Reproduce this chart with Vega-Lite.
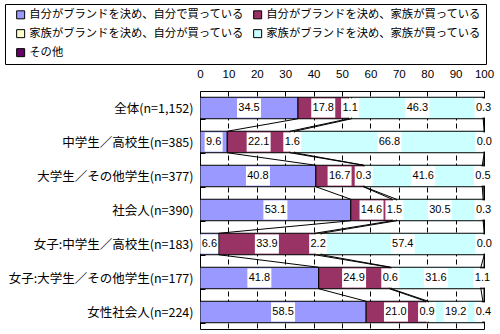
{
  "$schema": "https://vega.github.io/schema/vega-lite/v6.json",
  "width": 284,
  "height": 238,
  "autosize": {"type": "none"},
  "padding": {"left": 200, "top": 91, "right": 16, "bottom": 5},
  "background": "white",
  "config": {
    "font": "Noto Sans CJK JP",
    "view": {"stroke": "black", "strokeWidth": 1},
    "axisX": {"orient": "top", "title": null, "tickCount": 10, "labelOverlap": false, "grid": true, "gridColor": "black", "gridDash": [5, 3], "gridWidth": 1, "gridOpacity": 1, "domain": false, "ticks": false, "labelFontSize": 11.5, "labelFont": "Liberation Sans", "labelColor": "black", "labelPadding": 12, "labelFlush": false}
  },
  "data": {
    "values": [
      {"g": "全体(n=1,152)", "s": "自分がブランドを決め、自分で買っている", "v": 34.5},
      {"g": "全体(n=1,152)", "s": "自分がブランドを決め、家族が買っている", "v": 17.8},
      {"g": "全体(n=1,152)", "s": "家族がブランドを決め、自分が買っている", "v": 1.1},
      {"g": "全体(n=1,152)", "s": "家族がブランドを決め、家族が買っている", "v": 46.3},
      {"g": "全体(n=1,152)", "s": "その他", "v": 0.3},
      {"g": "中学生／高校生(n=385)", "s": "自分がブランドを決め、自分で買っている", "v": 9.6},
      {"g": "中学生／高校生(n=385)", "s": "自分がブランドを決め、家族が買っている", "v": 22.1},
      {"g": "中学生／高校生(n=385)", "s": "家族がブランドを決め、自分が買っている", "v": 1.6},
      {"g": "中学生／高校生(n=385)", "s": "家族がブランドを決め、家族が買っている", "v": 66.8},
      {"g": "中学生／高校生(n=385)", "s": "その他", "v": 0.0},
      {"g": "大学生／その他学生(n=377)", "s": "自分がブランドを決め、自分で買っている", "v": 40.8},
      {"g": "大学生／その他学生(n=377)", "s": "自分がブランドを決め、家族が買っている", "v": 16.7},
      {"g": "大学生／その他学生(n=377)", "s": "家族がブランドを決め、自分が買っている", "v": 0.3},
      {"g": "大学生／その他学生(n=377)", "s": "家族がブランドを決め、家族が買っている", "v": 41.6},
      {"g": "大学生／その他学生(n=377)", "s": "その他", "v": 0.5},
      {"g": "社会人(n=390)", "s": "自分がブランドを決め、自分で買っている", "v": 53.1},
      {"g": "社会人(n=390)", "s": "自分がブランドを決め、家族が買っている", "v": 14.6},
      {"g": "社会人(n=390)", "s": "家族がブランドを決め、自分が買っている", "v": 1.5},
      {"g": "社会人(n=390)", "s": "家族がブランドを決め、家族が買っている", "v": 30.5},
      {"g": "社会人(n=390)", "s": "その他", "v": 0.3},
      {"g": "女子:中学生／高校生(n=183)", "s": "自分がブランドを決め、自分で買っている", "v": 6.6},
      {"g": "女子:中学生／高校生(n=183)", "s": "自分がブランドを決め、家族が買っている", "v": 33.9},
      {"g": "女子:中学生／高校生(n=183)", "s": "家族がブランドを決め、自分が買っている", "v": 2.2},
      {"g": "女子:中学生／高校生(n=183)", "s": "家族がブランドを決め、家族が買っている", "v": 57.4},
      {"g": "女子:中学生／高校生(n=183)", "s": "その他", "v": 0.0},
      {"g": "女子:大学生／その他学生(n=177)", "s": "自分がブランドを決め、自分で買っている", "v": 41.8},
      {"g": "女子:大学生／その他学生(n=177)", "s": "自分がブランドを決め、家族が買っている", "v": 24.9},
      {"g": "女子:大学生／その他学生(n=177)", "s": "家族がブランドを決め、自分が買っている", "v": 0.6},
      {"g": "女子:大学生／その他学生(n=177)", "s": "家族がブランドを決め、家族が買っている", "v": 31.6},
      {"g": "女子:大学生／その他学生(n=177)", "s": "その他", "v": 1.1},
      {"g": "女性社会人(n=224)", "s": "自分がブランドを決め、自分で買っている", "v": 58.5},
      {"g": "女性社会人(n=224)", "s": "自分がブランドを決め、家族が買っている", "v": 21.0},
      {"g": "女性社会人(n=224)", "s": "家族がブランドを決め、自分が買っている", "v": 0.9},
      {"g": "女性社会人(n=224)", "s": "家族がブランドを決め、家族が買っている", "v": 19.2},
      {"g": "女性社会人(n=224)", "s": "その他", "v": 0.4}
    ]
  },
  "transform": [
    {"calculate": "indexof(['自分がブランドを決め、自分で買っている','自分がブランドを決め、家族が買っている','家族がブランドを決め、自分が買っている','家族がブランドを決め、家族が買っている','その他'], datum.s)", "as": "so"},
    {"calculate": "indexof(['全体(n=1,152)','中学生／高校生(n=385)','大学生／その他学生(n=377)','社会人(n=390)','女子:中学生／高校生(n=183)','女子:大学生／その他学生(n=177)','女性社会人(n=224)'], datum.g)", "as": "go"},
    {"window": [{"op": "sum", "field": "v", "as": "cum"}], "sort": [{"field": "so"}], "groupby": ["g"], "frame": [null, 0]},
    {"calculate": "datum.cum - datum.v", "as": "start"},
    {"calculate": "datum.cum - datum.v / 2", "as": "mid"},
    {"window": [{"op": "lead", "field": "cum", "as": "ncum"}, {"op": "lead", "field": "g", "as": "ng"}], "sort": [{"field": "go"}], "groupby": ["s"], "frame": [null, null]}
  ],
  "encoding": {
    "y": {
      "field": "g",
      "type": "nominal",
      "sort": ["全体(n=1,152)","中学生／高校生(n=385)","大学生／その他学生(n=377)","社会人(n=390)","女子:中学生／高校生(n=183)","女子:大学生／その他学生(n=177)","女性社会人(n=224)"],
      "scale": {"paddingInner": 0.368, "paddingOuter": 0.184},
      "axis": {"title": null, "domain": false, "ticks": true, "tickBand": "extent", "tickSize": -5, "tickColor": "black", "labelPadding": 12, "labelFontSize": 12.5, "labelColor": "black", "labelLimit": 300, "grid": false}
    }
  },
  "layer": [
    {
      "mark": {"type": "bar", "stroke": "black", "strokeWidth": 1, "clip": true},
      "encoding": {
        "x": {
          "field": "start",
          "type": "quantitative",
          "scale": {"domain": [0, 100], "nice": false}
        },
        "x2": {"field": "cum"},
        "color": {
          "field": "s",
          "type": "nominal",
          "scale": {
            "domain": ["自分がブランドを決め、自分で買っている","自分がブランドを決め、家族が買っている","家族がブランドを決め、自分が買っている","家族がブランドを決め、家族が買っている","その他"],
            "range": ["#9999FF", "#993366", "#FFFFCC", "#CCFFFF", "#660066"]
          },
          "legend": {
            "title": null, "orient": "none", "legendX": -195, "legendY": -87, "columns": 2, "direction": "horizontal",
            "strokeColor": "black", "fillColor": "white", "padding": 5, "columnPadding": 3, "rowPadding": 6,
            "labelFontSize": 11.3, "labelColor": "black", "labelLimit": 400, "labelOffset": 3,
            "symbolType": "square", "symbolSize": 64, "symbolStrokeColor": "black", "symbolStrokeWidth": 1, "symbolOffset": 5
          }
        }
      }
    },
    {
      "transform": [{"filter": "datum.ng != null"}],
      "mark": {"type": "rule", "color": "black", "strokeWidth": 1, "yOffset": 10.75, "y2Offset": -10.75},
      "encoding": {
        "x": {"field": "cum", "type": "quantitative"},
        "x2": {"field": "ncum"},
        "y2": {"field": "ng"}
      }
    },
    {
      "mark": {"type": "point", "filled": true, "color": "white", "opacity": 1, "strokeWidth": 0},
      "encoding": {
        "x": {"field": "mid", "type": "quantitative"},
        "shape": {"condition": {"test": "datum.v >= 10", "value": "M-1,-0.8H1V0.8H-1Z"}, "value": "M-1,-1.07H1V1.07H-1Z"},
        "size": {"condition": {"test": "datum.v >= 10", "value": 576}, "value": 324}
      }
    },
    {
      "mark": {"type": "text", "font": "Liberation Sans", "fontSize": 11, "color": "black"},
      "encoding": {
        "x": {"field": "mid", "type": "quantitative"},
        "text": {"field": "v", "type": "quantitative", "format": ".1f"}
      }
    }
  ]
}
